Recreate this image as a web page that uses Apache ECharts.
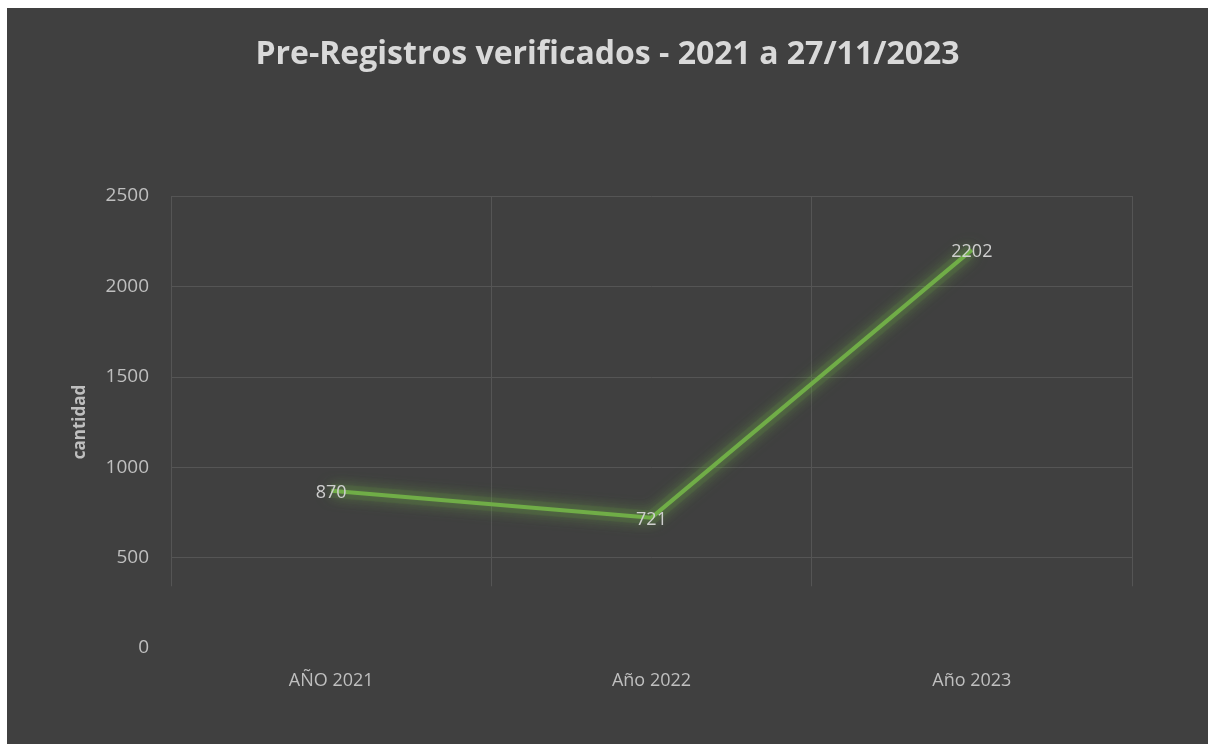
<!DOCTYPE html>
<html>
<head>
<meta charset="utf-8">
<script src="https://cdn.jsdelivr.net/npm/echarts@6/dist/echarts.min.js"></script>
<style>
  html, body { margin: 0; padding: 0; background: #ffffff; }
  #chart { position: absolute; left: 7px; top: 8px; width: 1201px; height: 736px; }
</style>
</head>
<body>
<div id="chart"></div>
<script>
// datos
const categorias = ['AÑO 2021', 'Año 2022', 'Año 2023']
const cantidades = [870, 721, 2202]
const yTicks = { min: 0, max: 2500, interval: 500 }

const chart = echarts.init(document.getElementById('chart'))

const option = {
  backgroundColor: '#404040',
  textStyle: { fontFamily: 'Open Sans' },
  title: {
    text: 'Pre-Registros verificados - 2021 a 27/11/2023',
    left: 'center',
    top: 26,
    textStyle: { color: '#d9d9d9', fontSize: 32, fontWeight: 'bold', fontFamily: 'Open Sans' }
  },
  grid: { left: 164, right: 76, top: 188, bottom: 96 },
  xAxis: {
    type: 'category',
    data: categorias,
    boundaryGap: true,
    axisLine: { show: false },
    axisTick: { show: false },
    axisLabel: { color: '#bfbfbf', fontSize: 18, margin: 24 },
    splitLine: { show: true, lineStyle: { color: '#555555', width: 1 } }
  },
  yAxis: {
    type: 'value',
    min: yTicks.min,
    max: yTicks.max,
    interval: yTicks.interval,
    name: 'cantidad',
    nameLocation: 'middle',
    nameGap: 82,
    nameRotate: 90,
    nameTextStyle: { color: '#bfbfbf', fontSize: 17, fontWeight: 'bold' },
    axisLine: { show: false },
    axisTick: { show: false },
    axisLabel: { color: '#bfbfbf', fontSize: 19, margin: 22, formatter: (v) => String(v) },
    splitLine: { lineStyle: { color: '#555555', width: 1 } }
  },
  series: [
    // halo verde difuso bajo la línea
    {
      name: 'brillo',
      type: 'line',
      data: cantidades,
      symbol: 'none',
      silent: true,
      z: 1,
      lineStyle: {
        color: 'rgba(112, 173, 71, 0.13)',
        width: 14,
        shadowColor: 'rgba(112, 173, 71, 1)',
        shadowBlur: 12
      },
      // zona inferior sin cuadrícula, como en el original
      markArea: {
        silent: true,
        itemStyle: { color: '#404040', opacity: 1, borderColor: '#404040', borderWidth: 4 },
        data: [[{ yAxis: 0 }, { yAxis: 330 }]]
      }
    },
    {
      name: 'cantidad',
      type: 'line',
      data: cantidades,
      symbol: 'circle',
      symbolSize: 1,
      showSymbol: true,
      z: 3,
      itemStyle: { color: 'rgba(0,0,0,0)' },
      lineStyle: {
        color: '#70ad47',
        width: 4,
        shadowColor: 'rgba(112, 173, 71, 0.9)',
        shadowBlur: 16
      },
      label: {
        show: true,
        position: 'inside',
        color: '#cfcfcf',
        fontSize: 18,
        offset: [0, 2]
      }
    }
  ]
}

chart.setOption(option)
</script>
</body>
</html>
